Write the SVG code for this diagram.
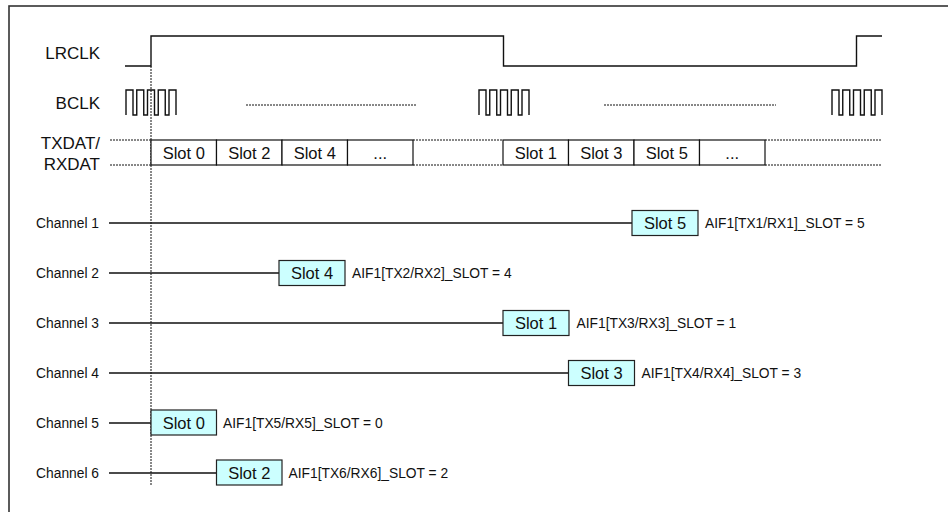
<svg xmlns="http://www.w3.org/2000/svg" width="948" height="512" viewBox="0 0 948 512">
<style>
.frame{fill:none;stroke:#333;stroke-width:1.6}
.sig{fill:none;stroke:#111;stroke-width:1.4}
.dot{fill:none;stroke:#111;stroke-width:1;stroke-dasharray:2 1}
.box{fill:#fff;stroke:#111;stroke-width:1.2}
.cbox{fill:#ccffff;stroke:#222;stroke-width:1.2}
.lbl{font-family:"Liberation Sans",Arial,sans-serif;font-size:17px;fill:#111}
.slot{font-family:"Liberation Sans",Arial,sans-serif;font-size:16.5px;fill:#111;text-anchor:middle}
.ch{font-family:"Liberation Sans",Arial,sans-serif;font-size:13.8px;fill:#111}
</style>
<defs>
<path id="bclk" class="sig" d="M0,25 V0 H7 V25 H10.75 V0 H17.75 V25 H21.5 V0 H28.5 V25 H32.25 V0 H39.25 V25 H43 V0 H50 V25"/>
</defs>
<rect class="frame" x="9" y="6" width="960" height="520"/>

<g id="signals">
<text class="lbl" x="100" y="59" text-anchor="end">LRCLK</text>
<text class="lbl" x="100" y="109" text-anchor="end">BCLK</text>
<text class="lbl" x="100" y="149" text-anchor="end">TXDAT/</text>
<text class="lbl" x="100" y="170" text-anchor="end">RXDAT</text>
<path id="lrclk" class="sig" d="M125,66 H151 V36 H503.5 V66 H856.5 V36 H882"/>
<use href="#bclk" x="126" y="90"/>
<use href="#bclk" x="479" y="90"/>
<use href="#bclk" x="832" y="90"/>
<path class="dot" d="M246,105 H417 M604,105 H776"/>
<path class="dot" d="M110,140 H151 M110,165 H151 M413,140 H503 M413,165 H503 M765,140 H881 M765,165 H881"/>
<path class="dot" d="M151,66 V485"/>
</g>

<g id="slots">
<rect class="box" x="151" y="140" width="65.5" height="25"/>
<rect class="box" x="216.5" y="140" width="65.5" height="25"/>
<rect class="box" x="282" y="140" width="65.5" height="25"/>
<rect class="box" x="347.5" y="140" width="65.5" height="25"/>
<rect class="box" x="503" y="140" width="65.5" height="25"/>
<rect class="box" x="568.5" y="140" width="65.5" height="25"/>
<rect class="box" x="634" y="140" width="65.5" height="25"/>
<rect class="box" x="699.5" y="140" width="65.5" height="25"/>
<text class="slot" x="183.75" y="159">Slot 0</text>
<text class="slot" x="249.25" y="159">Slot 2</text>
<text class="slot" x="314.75" y="159">Slot 4</text>
<text class="slot" x="380.25" y="159">...</text>
<text class="slot" x="535.75" y="159">Slot 1</text>
<text class="slot" x="601.25" y="159">Slot 3</text>
<text class="slot" x="666.75" y="159">Slot 5</text>
<text class="slot" x="732.25" y="159">...</text>
</g>

<g id="connectors">
<path class="sig" d="M109,223 H632 M109,273 H279 M109,323 H503 M109,373 H568.5 M109,423 H151 M109,473 H216.5"/>
</g>

<g id="ch1">
<text class="ch" x="99" y="228" text-anchor="end">Channel 1</text>
<rect class="cbox" x="632" y="210.5" width="66" height="25"/>
<text class="slot" x="665" y="229">Slot 5</text>
<text class="ch" x="705" y="228">AIF1[TX1/RX1]_SLOT = 5</text>
</g>
<g id="ch2">
<text class="ch" x="99" y="278" text-anchor="end">Channel 2</text>
<rect class="cbox" x="279" y="260.5" width="66" height="25"/>
<text class="slot" x="312" y="279">Slot 4</text>
<text class="ch" x="352" y="278">AIF1[TX2/RX2]_SLOT = 4</text>
</g>
<g id="ch3">
<text class="ch" x="99" y="328" text-anchor="end">Channel 3</text>
<rect class="cbox" x="503" y="310.5" width="66" height="25"/>
<text class="slot" x="536" y="329">Slot 1</text>
<text class="ch" x="576.5" y="328">AIF1[TX3/RX3]_SLOT = 1</text>
</g>
<g id="ch4">
<text class="ch" x="99" y="378" text-anchor="end">Channel 4</text>
<rect class="cbox" x="568.5" y="360.5" width="66" height="25"/>
<text class="slot" x="601.5" y="379">Slot 3</text>
<text class="ch" x="641.5" y="378">AIF1[TX4/RX4]_SLOT = 3</text>
</g>
<g id="ch5">
<text class="ch" x="99" y="428" text-anchor="end">Channel 5</text>
<rect class="cbox" x="151" y="410" width="65.5" height="25"/>
<text class="slot" x="183.75" y="429">Slot 0</text>
<text class="ch" x="223" y="428">AIF1[TX5/RX5]_SLOT = 0</text>
</g>
<g id="ch6">
<text class="ch" x="99" y="478" text-anchor="end">Channel 6</text>
<rect class="cbox" x="216.5" y="460" width="65.5" height="25"/>
<text class="slot" x="249.25" y="479">Slot 2</text>
<text class="ch" x="288.5" y="478">AIF1[TX6/RX6]_SLOT = 2</text>
</g>
</svg>
